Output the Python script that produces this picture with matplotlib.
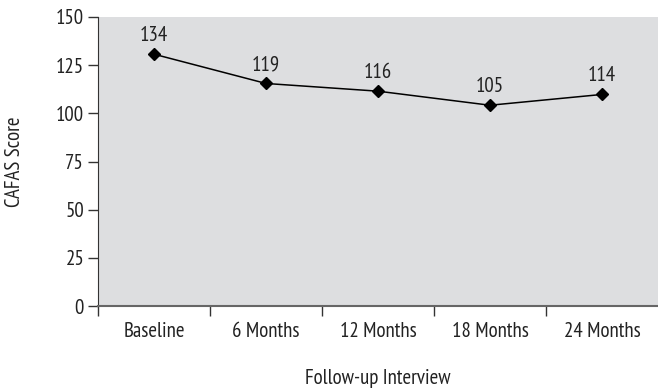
import matplotlib
matplotlib.use("Agg")
import matplotlib.pyplot as plt
from matplotlib.ticker import FixedLocator

plt.rcParams['font.family'] = ['PT Sans Narrow', 'Fira Sans Condensed', 'Open Sans Condensed',
                               'Roboto Condensed', 'Asap Condensed', 'DejaVu Sans']

categories = ["Baseline", "6 Months", "12 Months", "18 Months", "24 Months"]
values = [130.7, 115.5, 111.5, 104.2, 109.8]
labels = ["134", "119", "116", "105", "114"]
yticks = [0, 25, 50, 75, 100, 125, 150]

FS = 15
TXT = '#222222'

fig = plt.figure(figsize=(6.58, 3.89), dpi=100)
ax = fig.add_axes([98/658, 1-306/389, 1-98/658, (306-17)/389])
ax.set_facecolor('#dddee0')

x = list(range(len(categories)))
ax.plot(x, values, color='black', lw=1.1, marker='D', ms=6, mfc='black', mec='black')
for xi, v, lab in zip(x, values, labels):
    ax.annotate(lab, (xi, v), xytext=(0, 6.5), textcoords='offset points',
                ha='center', va='bottom', fontsize=FS, color=TXT)

ax.set_xlim(-0.5, len(categories) - 0.5)
ax.set_ylim(0, 150)
ax.set_yticks(yticks)
ax.set_xticks(x)
ax.set_xticklabels(categories, fontsize=FS, color=TXT)
ax.tick_params(axis='x', which='major', length=0, pad=11.5)
ax.xaxis.set_minor_locator(FixedLocator([i - 0.5 for i in range(len(categories))]))
ax.tick_params(axis='x', which='minor', length=7, width=1, color='#333333', direction='out')
ax.tick_params(axis='y', length=7, width=1, color='#333333', labelsize=FS, labelcolor=TXT, pad=3)

for s in ['top', 'right']:
    ax.spines[s].set_visible(False)
ax.spines['left'].set_color('#333333')
ax.spines['bottom'].set_color('#666666')
ax.spines['bottom'].set_linewidth(1.5)

ax.set_ylabel("CAFAS Score", fontsize=FS, color=TXT, labelpad=23)
ax.set_xlabel("Follow-up Interview", fontsize=FS, color=TXT, labelpad=20)

fig.savefig("out.png", dpi=100)
